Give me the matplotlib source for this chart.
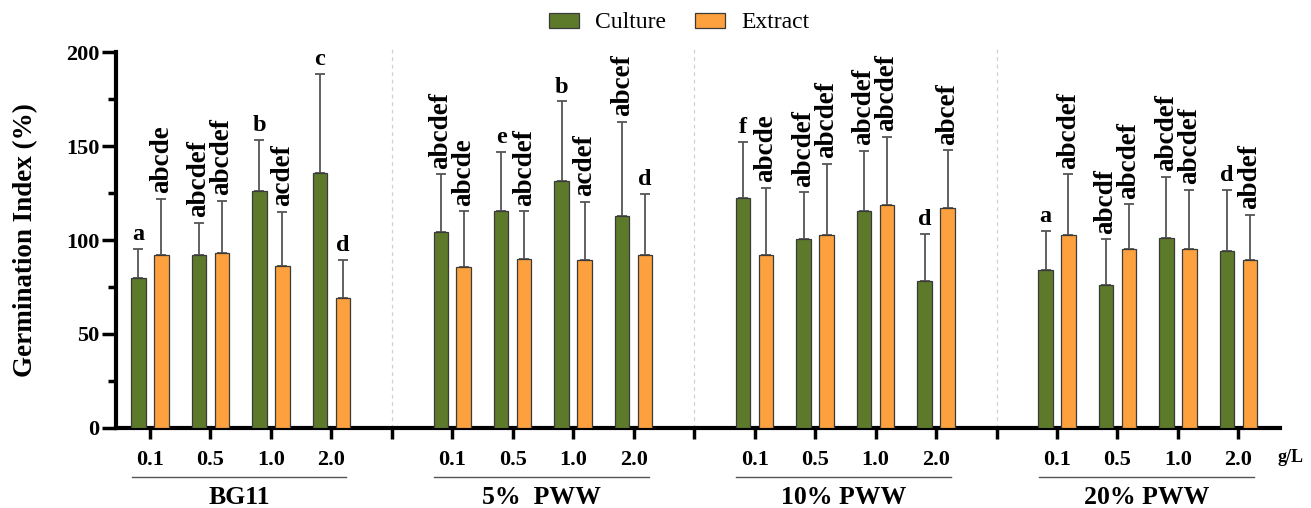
import matplotlib
matplotlib.use("Agg")
import matplotlib.pyplot as plt
import numpy as np
from matplotlib.ticker import MultipleLocator, FixedLocator

plt.rcParams['font.family'] = ['Liberation Serif', 'DejaVu Serif']

groups = ["BG11", "5%  PWW", "10% PWW", "20% PWW"]
doses = ["0.1", "0.5", "1.0", "2.0"]

culture_mean = [79.8, 91.9, 126.1, 135.6,
                104.0, 115.3, 131.6, 112.6,
                122.4, 100.6, 115.3, 78.3,
                83.8, 75.9, 101.2, 94.3]
culture_sd = [15.5, 17.2, 27.2, 52.9,
              30.9, 31.7, 42.2, 50.1,
              29.7, 24.8, 32.0, 25.1,
              20.9, 24.4, 32.5, 32.5]
extract_mean = [91.8, 93.0, 86.1, 69.3,
                85.4, 89.7, 89.1, 91.8,
                92.1, 102.8, 118.8, 117.2,
                102.7, 95.0, 95.0, 89.1]
extract_sd = [30.1, 27.8, 28.9, 20.0,
              29.9, 25.6, 31.3, 32.7,
              35.8, 37.6, 36.1, 30.5,
              32.2, 24.0, 31.8, 24.4]

culture_letters = ["a", "abcdef", "b", "c",
                   "abcdef", "e", "b", "abcef",
                   "f", "abcdef", "abcdef", "d",
                   "a", "abcdf", "abcdef", "d"]
extract_letters = ["abcde", "abcdef", "acdef", "d",
                   "abcde", "abcdef", "acdef", "d",
                   "abcde", "abcdef", "abcdef", "abcef",
                   "abcdef", "abcdef", "abcdef", "abdef"]

green = "#5d7a2b"
orange = "#fda13e"
edge = "#3a3a3a"
errc = "#555555"

fig = plt.figure(figsize=(13.11, 5.08), dpi=100)
ax = fig.add_axes([0.0885, 0.1575, 0.8875, 0.7401])

pos = np.array([g * 5 + i for g in range(4) for i in range(4)], dtype=float)
off = 0.19
w = 0.24

ax.bar(pos - off, culture_mean, w, color=green, edgecolor=edge, linewidth=0.9,
       label="Culture", zorder=3)
ax.bar(pos + off, extract_mean, w, color=orange, edgecolor=edge, linewidth=0.9,
       label="Extract", zorder=3)
ax.errorbar(pos - off, culture_mean, yerr=[np.zeros(16), culture_sd], fmt="none",
            ecolor=errc, elinewidth=1.3, capsize=3.5, capthick=1.3, zorder=2)
ax.errorbar(pos + off, extract_mean, yerr=[np.zeros(16), extract_sd], fmt="none",
            ecolor=errc, elinewidth=1.3, capsize=3.5, capthick=1.3, zorder=2)

def annotate(xs, means, sds, letters):
    for x, m, s, t in zip(xs, means, sds, letters):
        top = m + s
        if len(t) == 1:
            ax.text(x, top + 2.0, t, ha="center", va="bottom", fontsize=17.5,
                    fontweight="bold", zorder=4)
        else:
            ax.text(x, top + 3.0, t, ha="center", va="bottom", fontsize=19.5,
                    fontweight="bold", rotation=90, zorder=4)

annotate(pos - off, culture_mean, culture_sd, culture_letters)
annotate(pos + off, extract_mean, extract_sd, extract_letters)

# separators
for sx in [4, 9, 14]:
    ax.plot([sx, sx], [0, 203], ls=(0, (3, 3)), color="#d0d0d0", lw=0.9,
            clip_on=False, zorder=1)

ax.set_xlim(-0.56, 18.68)
ax.set_ylim(0, 200)

for sp in ["top", "right"]:
    ax.spines[sp].set_visible(False)
for sp in ["left", "bottom"]:
    ax.spines[sp].set_linewidth(3)

ax.yaxis.set_major_locator(MultipleLocator(50))
ax.yaxis.set_minor_locator(MultipleLocator(25))
ax.tick_params(axis="y", which="major", length=10, width=2.5, labelsize=16, pad=2)
ax.tick_params(axis="y", which="minor", length=6, width=2.5)
for lab in ax.get_yticklabels():
    lab.set_fontweight("bold")

ax.xaxis.set_major_locator(FixedLocator(list(range(19))))
ticklabels = []
for k in range(19):
    if k % 5 == 4:
        ticklabels.append("")
    else:
        ticklabels.append(doses[k % 5])
ax.set_xticklabels(ticklabels)
ax.tick_params(axis="x", which="major", length=8, width=2.5, labelsize=16, pad=8)
for lab in ax.get_xticklabels():
    lab.set_fontweight("bold")

ax.set_ylabel("Germination Index (%)", fontsize=19.5, fontweight="bold", labelpad=20)

trans = ax.get_xaxis_transform()
for g, name in enumerate(groups):
    x0 = g * 5 - 0.30
    x1 = g * 5 + 3.25
    ax.plot([x0, x1], [-0.13, -0.13], color="#555555", lw=1.0, transform=trans,
            clip_on=False)
    ax.text((x0 + x1) / 2, -0.185, name, transform=trans, ha="center", va="center",
            fontsize=18.5, fontweight="bold")

ax.text(18.86, -0.078, "g/L", transform=trans, ha="center", va="center",
        fontsize=13, fontweight="bold")

leg = fig.legend(loc="center", bbox_to_anchor=(0.518, 0.955), ncol=2, frameon=False,
                 fontsize=17, handlelength=1.25, handleheight=0.6, columnspacing=1.25,
                 handletextpad=0.68)

fig.savefig("out.png", dpi=100)
